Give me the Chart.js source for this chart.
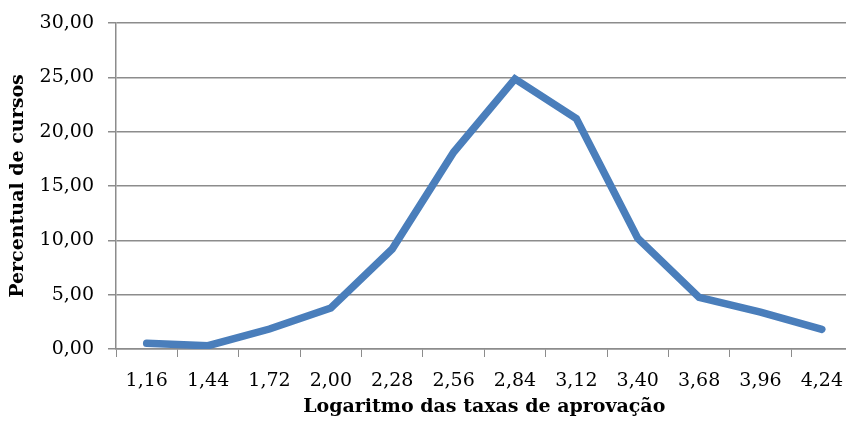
<!DOCTYPE html>
<html>
<head>
<meta charset="utf-8">
<script src="https://cdn.jsdelivr.net/npm/chart.js@4.4.1/dist/chart.umd.min.js"></script>
<style>
  html, body { margin: 0; padding: 0; background: #fff; }
  .wrap { width: 846px; height: 422px; overflow: hidden; position: relative; }
  .wrap canvas { position: absolute; left: 0; top: 0; }
</style>
</head>
<body>
<div class="wrap">
  <canvas id="lineChart" width="856" height="422"></canvas>
</div>
<script>
// categorias do eixo x (logaritmo das taxas de aprovação)
const categories = ['1,16', '1,44', '1,72', '2,00', '2,28', '2,56', '2,84', '3,12', '3,40', '3,68', '3,96', '4,24'];
// percentual de cursos
const percentual = [0.52, 0.3, 1.84, 3.77, 9.2, 18.1, 24.85, 21.2, 10.2, 4.75, 3.4, 1.81];
const yTicks = [0, 5, 10, 15, 20, 25, 30];

const gridColor = '#8c8c8c';
const fontFamily = '"DejaVu Serif", serif';

const ctx = document.getElementById('lineChart').getContext('2d');
const chart = new Chart(ctx, {
  type: 'line',
  data: {
    labels: categories,
    datasets: [{
      label: 'Percentual de cursos',
      data: percentual,
      borderColor: '#4a7ebb',
      borderWidth: 7.5,
      borderCapStyle: 'round',
      borderJoinStyle: 'miter',
      tension: 0,
      fill: false,
      pointRadius: 0,
      pointHoverRadius: 0
    }]
  },
  options: {
    responsive: false,
    animation: false,
    layout: { padding: { top: 23, left: 0, right: 0, bottom: 0 } },
    plugins: {
      legend: { display: false },
      tooltip: { enabled: false }
    },
    scales: {
      x: {
        offset: true,
        grid: {
          offset: true,
          drawOnChartArea: false,
          drawTicks: true,
          tickLength: 8,
          color: gridColor
        },
        border: { color: gridColor, width: 1.5 },
        ticks: {
          color: '#000',
          font: { family: fontFamily, size: 19 },
          padding: 13,
          maxRotation: 0,
          autoSkip: false
        },
        title: {
          display: true,
          text: 'Logaritmo das taxas de aprovação',
          color: '#000',
          font: { family: fontFamily, size: 19, weight: 'bold' },
          padding: { top: 4, bottom: 4 }
        },
        afterFit: function (scale) { scale.height = 73; }
      },
      y: {
        min: 0,
        max: 30,
        afterBuildTicks: function (scale) {
          scale.ticks = yTicks.map(function (v) { return { value: v }; });
        },
        grid: {
          color: gridColor,
          lineWidth: 1.5,
          drawTicks: true,
          tickLength: 8
        },
        border: { color: gridColor, width: 1.5 },
        ticks: {
          color: '#000',
          font: { family: fontFamily, size: 19 },
          padding: 14,
          callback: function (value) {
            return value.toFixed(2).replace('.', ',');
          }
        },
        title: {
          display: true,
          text: 'Percentual de cursos',
          color: '#000',
          font: { family: fontFamily, size: 19, weight: 'bold' },
          padding: { top: 7, bottom: 0 }
        },
        afterFit: function (scale) {
          scale.width = 116;
          scale.paddingTop = 0;
          scale.paddingBottom = 0;
        }
      }
    }
  }
});
</script>
</body>
</html>
